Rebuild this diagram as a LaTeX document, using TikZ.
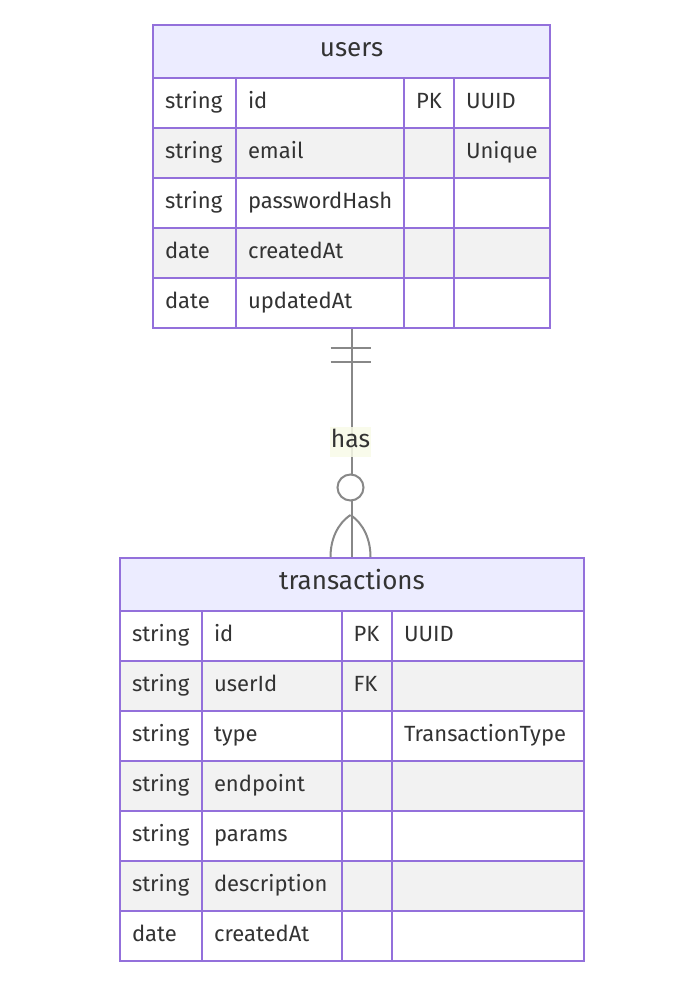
\documentclass[tikz,border=0pt]{standalone}
\usepackage{fontspec}
\setmainfont{Fira Sans}
\definecolor{erline}{HTML}{9370DB}
\definecolor{erhead}{HTML}{ECECFF}
\definecolor{errow}{HTML}{F2F2F2}
\definecolor{ertext}{HTML}{333333}
\definecolor{relline}{HTML}{888888}
\definecolor{lblbg}{HTML}{F8FAE8}
\tikzset{
  head/.style={draw=erline, line width=1.5pt, fill=erhead, anchor=north west, minimum width=#1,
    minimum height=39.75pt, inner sep=0pt, text height=0.95em, text depth=0.17em,
    font=\fontsize{19.5}{22}\selectfont, text=ertext},
  cell/.style={draw=erline, line width=1.5pt, anchor=north west, minimum height=37.5pt,
    inner xsep=9pt, inner ysep=0pt, text width=#1, align=left, text height=0.95em, text depth=0.12em,
    font=\fontsize{16.5}{19}\selectfont, text=ertext},
  rowa/.style={fill=white},
  rowb/.style={fill=errow},
  rel/.style={draw=relline, line width=1.5pt},
  lbl/.style={fill=lblbg, fill opacity=0.85, text opacity=1, text=ertext, inner xsep=1pt, inner ysep=0pt,
    minimum height=22.5pt, text height=0.95em, text depth=0.15em, font=\fontsize{18.5}{21}\selectfont}
}
\begin{document}
\begin{tikzpicture}[x=0.75pt,y=-0.75pt]
\useasboundingbox (0,0) rectangle (687,997);

% users
\node[head=297.75pt] (users) at (152,24) {users};
\node[cell=44.25pt,rowa] (u1a) at (152,77) {string};
\node[cell=108pt,rowa] (u1b) at (235,77) {id};
\node[cell=19.5pt,rowa] (u1c) at (403,77) {PK};
\node[cell=54pt,rowa] (u1d) at (453,77) {UUID};
\node[cell=44.25pt,rowb] (u2a) at (152,127) {string};
\node[cell=108pt,rowb] (u2b) at (235,127) {email};
\node[cell=19.5pt,rowb] (u2c) at (403,127) {};
\node[cell=54pt,rowb] (u2d) at (453,127) {Unique};
\node[cell=44.25pt,rowa] (u3a) at (152,177) {string};
\node[cell=108pt,rowa] (u3b) at (235,177) {passwordHash};
\node[cell=19.5pt,rowa] (u3c) at (403,177) {};
\node[cell=54pt,rowa] (u3d) at (453,177) {};
\node[cell=44.25pt,rowb] (u4a) at (152,227) {date};
\node[cell=108pt,rowb] (u4b) at (235,227) {createdAt};
\node[cell=19.5pt,rowb] (u4c) at (403,227) {};
\node[cell=54pt,rowb] (u4d) at (453,227) {};
\node[cell=44.25pt,rowa] (u5a) at (152,277) {date};
\node[cell=108pt,rowa] (u5b) at (235,277) {updatedAt};
\node[cell=19.5pt,rowa] (u5c) at (403,277) {};
\node[cell=54pt,rowa] (u5d) at (453,277) {};

% transactions
\node[head=348pt] (trans) at (119,557) {transactions};
\node[cell=43.5pt,rowa] (t1a) at (119,610) {string};
\node[cell=86.625pt,rowa] (t1b) at (201,610) {id};
\node[cell=19.875pt,rowa] (t1c) at (340.5,610) {PK};
\node[cell=126pt,rowa] (t1d) at (391,610) {UUID};
\node[cell=43.5pt,rowb] (t2a) at (119,660) {string};
\node[cell=86.625pt,rowb] (t2b) at (201,660) {userId};
\node[cell=19.875pt,rowb] (t2c) at (340.5,660) {FK};
\node[cell=126pt,rowb] (t2d) at (391,660) {};
\node[cell=43.5pt,rowa] (t3a) at (119,710) {string};
\node[cell=86.625pt,rowa] (t3b) at (201,710) {type};
\node[cell=19.875pt,rowa] (t3c) at (340.5,710) {};
\node[cell=126pt,rowa] (t3d) at (391,710) {TransactionType};
\node[cell=43.5pt,rowb] (t4a) at (119,760) {string};
\node[cell=86.625pt,rowb] (t4b) at (201,760) {endpoint};
\node[cell=19.875pt,rowb] (t4c) at (340.5,760) {};
\node[cell=126pt,rowb] (t4d) at (391,760) {};
\node[cell=43.5pt,rowa] (t5a) at (119,810) {string};
\node[cell=86.625pt,rowa] (t5b) at (201,810) {params};
\node[cell=19.875pt,rowa] (t5c) at (340.5,810) {};
\node[cell=126pt,rowa] (t5d) at (391,810) {};
\node[cell=43.5pt,rowb] (t6a) at (119,860) {string};
\node[cell=86.625pt,rowb] (t6b) at (201,860) {description};
\node[cell=19.875pt,rowb] (t6c) at (340.5,860) {};
\node[cell=126pt,rowb] (t6d) at (391,860) {};
\node[cell=43.5pt,rowa] (t7a) at (119,910) {date};
\node[cell=86.625pt,rowa] (t7b) at (201,910) {createdAt};
\node[cell=19.875pt,rowa] (t7c) at (340.5,910) {};
\node[cell=126pt,rowa] (t7d) at (391,910) {};

% relation users ||--o{ transactions
\draw[rel] (users.center |- u5a.south) -- (users.center |- trans.north);
\draw[rel] (330.5,348) -- (370.5,348);
\draw[rel] (330.5,362) -- (370.5,362);
\node[lbl] (has) at (350.5,442) {has};
\draw[rel,fill=white] (350.5,487.5) circle[radius=9.75pt];
\draw[rel] (350.5,515) .. controls (337,524) and (330.5,540) .. (330.5,557);
\draw[rel] (350.5,515) .. controls (364,524) and (370.5,540) .. (370.5,557);
\end{tikzpicture}
\end{document}
